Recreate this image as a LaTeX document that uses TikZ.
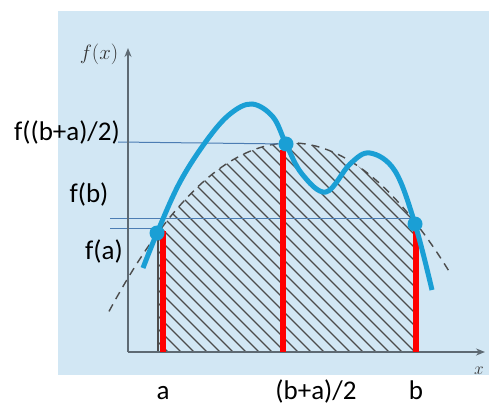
\documentclass[tikz,border=0pt]{standalone}
\usepackage{fontspec}
\setmainfont{Carlito}
\usetikzlibrary{arrows.meta}
\definecolor{bgblue}{HTML}{D2E7F4}
\definecolor{curveblue}{HTML}{1A9FD5}
\definecolor{lineblue}{HTML}{4C7DB3}
\definecolor{axisgray}{HTML}{5E6A73}
% quadratic through f(a), f((b+a)/2), f(b)
\newcommand{\quadfit}[1]{143-5.69*((#1-285)/100)+51.13*((#1-285)/100)*((#1-285)/100)}

\begin{document}
\begin{tikzpicture}[x=1pt, y=-1pt,
    axis/.style={draw=axisgray, line width=1.5pt, -{Stealth[length=9pt, width=7pt]}},
    guide/.style={draw=lineblue, line width=1pt},
    bar/.style={draw=red, line width=5.5pt},
    hatch/.style={draw=black!70, line width=1.2pt},
    approx/.style={draw=black!70, dash pattern=on 8pt off 6pt, line width=1.4pt},
    curve/.style={draw=curveblue, line width=5pt},
    dot/.style={circle, fill=curveblue, inner sep=0pt, minimum size=15pt},
    lbl/.style={font=\fontsize{27}{30}\selectfont, inner sep=0.5pt}
]
\useasboundingbox (0,0) rectangle (489,406);
\fill[bgblue] (58,11) rectangle (489,375);

% points on the curve
\coordinate (pa) at (157,233);
\coordinate (pm) at (286,144);
\coordinate (pb) at (415,224);
\coordinate (origin) at (128,352);

% hatched area under the parabola
\begin{scope}
  \clip (158,352) -- plot[domain=158:416, samples=60] (\x,{\quadfit{\x}}) -- (416,352) -- cycle;
  \foreach \s in {-110,-97,...,420}
    \draw[hatch] (\s,100) -- (\s+260,360);
\end{scope}
\draw[hatch] (158,235) -- (158,352);
\draw[approx] plot[domain=109:449, samples=80] (\x,{\quadfit{\x}});

% levels
\coordinate (lm) at (118,142);
\coordinate (lb) at (110,218);
\coordinate (la) at (110,228);
\draw[guide] (lm) -- (pm);
\draw[guide] (lb) -- (pb |- lb);
\draw[guide] (la) -- (161,228);

% axes
\draw[axis] (origin) -- (128,48);
\draw[axis] (origin) -- (485,352);

% ordinates
\draw[bar] (163,352) -- (163,231);
\draw[bar] (283,352) -- (283,150);
\draw[bar] (416,352) -- (416,231);

% f(x)
\draw[curve] plot[smooth, tension=0.6] coordinates {(143,268) (157,233) (180,182) (207,140)
  (230,114) (252,104) (273,117) (286,144) (302,174) (326,192) (350,164) (370,153)
  (395,171) (415,224) (432,290)};

\node[dot] (da) at (pa) {};
\node[dot] (dm) at (pm) {};
\node[dot] (db) at (pb) {};

% labels
\node[lbl] (tm) at (67,132) {f((b+a)/2)};
\node[lbl] (tb) at (89,194) {f(b)};
\node[lbl] (ta) at (104,251) {f(a)};
\node[lbl] (xa) at (163,393) {a};
\node[lbl] (xm) at (316,391) {(b+a)/2};
\node[lbl] (xb) at (416,390) {b};
\node[text=black!80, font=\fontsize{20}{22}\selectfont] (fx) at (99,54) {$f(x)$};
\node[text=black!80, font=\fontsize{17}{19}\selectfont] (xl) at (479,371) {$x$};
\end{tikzpicture}
\end{document}
